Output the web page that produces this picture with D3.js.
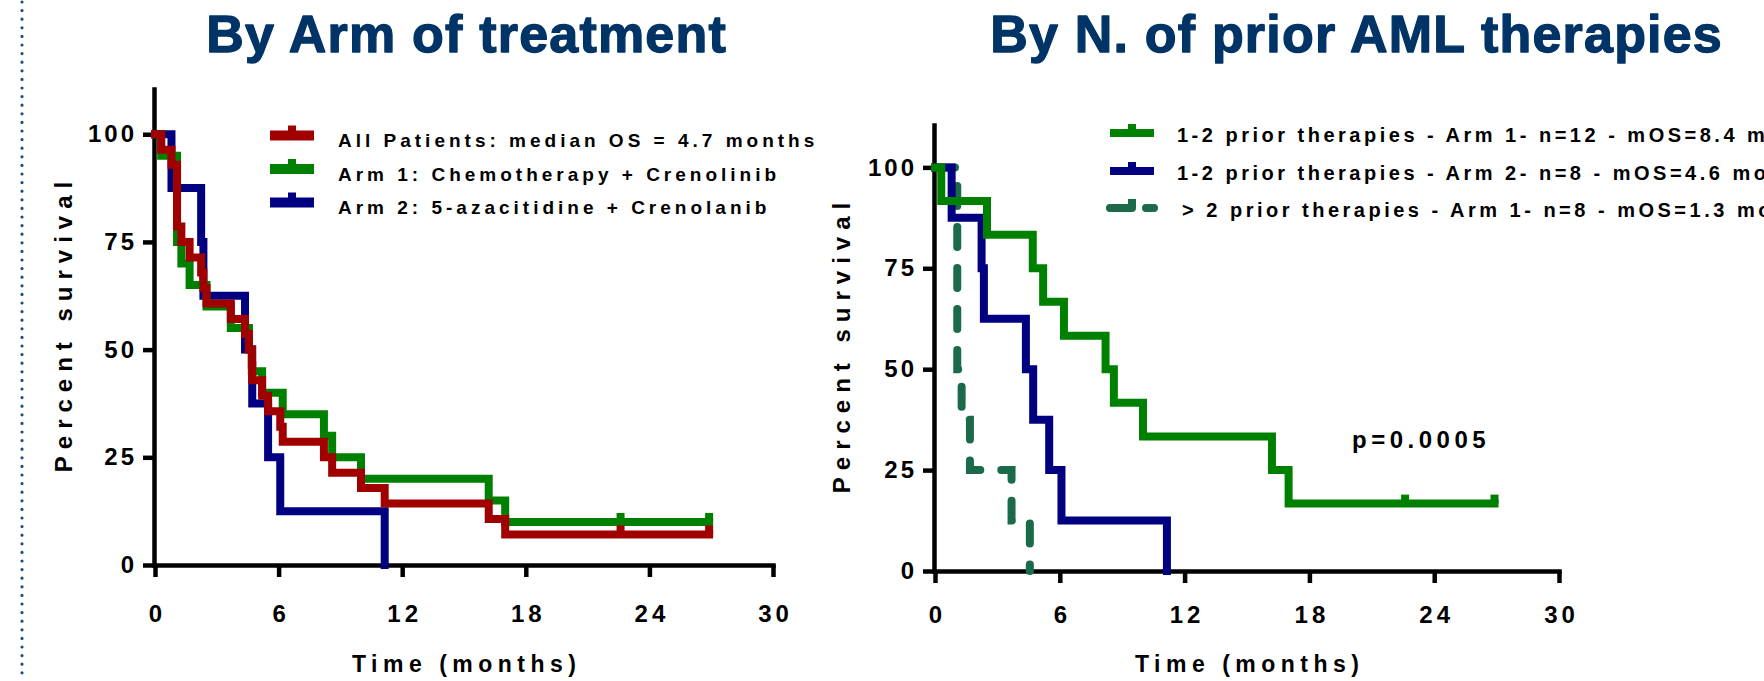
<!DOCTYPE html>
<html>
<head>
<meta charset="utf-8">
<script src="https://cdn.jsdelivr.net/npm/d3@7"></script>
<style>
  html, body { margin: 0; padding: 0; background: #fff; }
  svg { display: block; }
</style>
</head>
<body>
<svg id="chart" width="1764" height="681"></svg>
<script>
// ---------------- DATA ----------------
const xTicks = [0, 6, 12, 18, 24, 30];
const yTicks = [0, 25, 50, 75, 100];

const leftTitle = "By Arm of treatment";
const rightTitle = "By N. of prior AML therapies";
const xAxisTitle = "Time (months)";
const yAxisTitle = "Percent survival";
const pValueLabel = "p=0.0005";

// Left panel: by arm of treatment
const allTimes = [0, 0.3, 0.8, 1.07, 1.28, 1.68, 2.24, 2.35, 2.5, 3.68, 4.37, 4.56, 4.7, 4.72, 5.2, 5.49, 6.08, 6.2, 8.2, 8.6, 10.0, 11.15, 16.2, 17.0, 26.9];
const allSurv  = [100, 96.4, 92.9, 78.6, 75.0, 71.4, 67.9, 64.3, 60.7, 57.1, 53.6, 50.0, 46.4, 42.9, 39.3, 35.7, 32.1, 28.6, 25.0, 21.4, 17.9, 14.3, 10.7, 7.1, 7.1];
const allCensor = [22.6, 26.9];

const arm1Times = [0, 0.3, 1.07, 1.28, 1.68, 2.5, 3.68, 4.56, 4.7, 5.2, 6.2, 8.2, 8.6, 10.0, 16.2, 17.0, 26.9];
const arm1Surv  = [100, 95, 75, 70, 65, 60, 55, 50, 45, 40, 35, 30, 25, 20, 15, 10, 10];
const arm1Censor = [22.6, 26.9];

const arm2Times = [0, 0.8, 2.24, 2.35, 4.37, 4.72, 5.49, 6.08, 11.15];
const arm2Surv  = [100, 87.5, 75, 62.5, 50, 37.5, 25, 12.5, 0];

const leftLegend = [
  "All Patients: median OS = 4.7 months",
  "Arm 1: Chemotherapy + Crenolinib",
  "Arm 2: 5-azacitidine + Crenolanib"
];

// Right panel: by number of prior AML therapies
const p12a1Times = [0, 0.3, 2.5, 4.7, 5.2, 6.2, 8.2, 8.6, 10.0, 16.2, 17.0, 26.9];
const p12a1Surv  = [100, 91.7, 83.3, 75, 66.7, 58.3, 50, 41.7, 33.3, 25, 16.7, 16.7];
const p12a1Censor = [22.6, 26.9];

const p12a2Times = [0, 0.8, 2.24, 2.35, 4.37, 4.72, 5.49, 6.08, 11.15];
const p12a2Surv  = [100, 87.5, 75, 62.5, 50, 37.5, 25, 12.5, 0];

const p3a1Times = [0, 1.07, 1.28, 1.68, 3.68, 4.56];
const p3a1Surv  = [100, 50, 37.5, 25, 12.5, 0];

const rightLegend = [
  "1-2 prior therapies - Arm 1- n=12 - mOS=8.4 months",
  "1-2 prior therapies - Arm 2- n=8 - mOS=4.6 months",
  "> 2 prior therapies - Arm 1- n=8 - mOS=1.3 months"
];

// ---------------- STYLE ----------------
const FONT = "'Liberation Sans', Arial, Helvetica, sans-serif";
const RED = "#a00000", GREEN = "#008000", BLUE = "#000080", TEAL = "#1b6b4b";
const NAVY = "#003366";

const svg = d3.select("#chart");

// dotted vertical separator line at far left
svg.append("line")
  .attr("x1", 22).attr("x2", 22).attr("y1", 2).attr("y2", 681)
  .attr("stroke", "#1f4e79").attr("stroke-width", 3.2)
  .attr("stroke-linecap", "round").attr("stroke-dasharray", "0,8.6");

function addText(sel, txt, x, y, size, ls, anchor, opts = {}) {
  let shift = 0;
  if (anchor === "middle") shift = ls / 2;
  if (anchor === "end") shift = ls;
  const t = sel.append("text")
    .attr("x", x + shift).attr("y", y)
    .attr("font-family", FONT).attr("font-weight", "bold")
    .attr("font-size", size).attr("letter-spacing", ls)
    .attr("text-anchor", anchor)
    .attr("fill", opts.fill || "#000")
    .attr("transform", opts.transform || null)
    .text(txt);
  if (opts.stroke) t.attr("stroke", opts.stroke).attr("stroke-width", opts.strokeWidth || 1).attr("stroke-linejoin", "round");
  return t;
}

function panel(cfg) {
  const x = d3.scaleLinear().domain([0, 30]).range([cfg.x0, cfg.x1]);
  const y = d3.scaleLinear().domain([0, 110.5]).range([cfg.y0, cfg.yTop]);
  const g = svg.append("g");

  // Axes
  const yAxis = d3.axisLeft(y).tickValues(yTicks).tickSize(11).tickSizeOuter(0).tickPadding(9);
  const xAxis = d3.axisBottom(x).tickValues(xTicks).tickSize(12).tickSizeOuter(0).tickPadding(cfg.xPad);

  const gy = g.append("g").attr("transform", `translate(${cfg.x0 - 1},0)`).call(yAxis);
  const gx = g.append("g").attr("transform", `translate(0,${cfg.y0})`).call(xAxis);
  [gx, gy].forEach(a => {
    a.select(".domain").attr("stroke", "#000").attr("stroke-width", 4.5).attr("stroke-linecap", "square");
    a.selectAll(".tick line").attr("stroke", "#000").attr("stroke-width", 4.5);
    a.selectAll("text")
      .attr("font-family", FONT).attr("font-weight", "bold")
      .attr("font-size", 24).attr("fill", "#000");
  });
  gy.selectAll("text").attr("letter-spacing", 3).attr("dx", 3);
  gx.selectAll("text").attr("letter-spacing", 4).attr("dx", 2);

  // Axis titles
  addText(g, xAxisTitle, (cfg.x0 + cfg.x1) / 2, 672, 23, 5.5, "middle");
  const cy = (cfg.y0 + cfg.yTop) / 2;
  addText(g, yAxisTitle, 0, 0, 24, 7, "middle", { transform: `translate(${cfg.yTitleX},${cy}) rotate(-90)` });

  // Title
  addText(svg, cfg.title, cfg.titleX, 52, 52, 1.2, "middle", { fill: NAVY, stroke: NAVY, strokeWidth: 1.3 });

  // Curves (drawn last-listed first so first series ends up on top)
  const line = d3.line().x(d => x(d[0])).y(d => y(d[1])).curve(d3.curveStepAfter);
  cfg.series.slice().reverse().forEach(s => {
    const pts = s.times.map((t, i) => [t, s.surv[i]]);
    g.append("path")
      .attr("d", line(pts))
      .attr("fill", "none").attr("stroke", s.color).attr("stroke-width", 8)
      .attr("stroke-linejoin", "miter").attr("stroke-linecap", s.dash ? "round" : "square")
      .attr("stroke-dasharray", s.dash || null);
    (s.censor || []).forEach(ct => {
      const v = s.surv[s.surv.length - 1];
      g.append("line")
        .attr("x1", x(ct)).attr("x2", x(ct))
        .attr("y1", y(v)).attr("y2", y(v) - 9)
        .attr("stroke", s.color).attr("stroke-width", 8);
    });
  });

  // Legend
  cfg.series.forEach((s, i) => {
    const ly = cfg.legY[i];
    g.append("line")
      .attr("x1", cfg.legX0).attr("x2", cfg.legX1).attr("y1", ly).attr("y2", ly)
      .attr("stroke", s.color).attr("stroke-width", cfg.legW)
      .attr("stroke-linecap", s.dash ? "round" : "butt")
      .attr("stroke-dasharray", s.dash ? "22,14" : null);
    const mx = s.dash ? cfg.legX0 + 22 : (cfg.legX0 + cfg.legX1) / 2;
    g.append("line")
      .attr("x1", mx).attr("x2", mx).attr("y1", ly).attr("y2", ly - cfg.legW / 2 - 5)
      .attr("stroke", s.color).attr("stroke-width", 8);
    addText(g, cfg.legend[i], cfg.legTextX + (s.dash ? 5 : 0), ly + cfg.legBase, cfg.legSize, cfg.legLs, "start");
  });

  return { x, y, g };
}

panel({
  x0: 155, x1: 773, y0: 565, yTop: 89, xPad: 28, yTitleX: 72,
  title: leftTitle, titleX: 466,
  series: [
    { times: allTimes, surv: allSurv, color: RED, censor: allCensor },
    { times: arm1Times, surv: arm1Surv, color: GREEN, censor: arm1Censor },
    { times: arm2Times, surv: arm2Surv, color: BLUE }
  ],
  legend: leftLegend, legY: [135.5, 169, 202.5], legX0: 270, legX1: 314, legW: 10,
  legTextX: 338, legBase: 11.5, legSize: 19, legLs: 4
});

panel({
  x0: 935, x1: 1559, y0: 571, yTop: 125, xPad: 23, yTitleX: 850,
  title: rightTitle, titleX: 1356,
  series: [
    { times: p12a1Times, surv: p12a1Surv, color: GREEN, censor: p12a1Censor },
    { times: p12a2Times, surv: p12a2Surv, color: BLUE },
    { times: p3a1Times, surv: p3a1Surv, color: TEAL, dash: "20,21" }
  ],
  legend: rightLegend, legY: [133, 171, 208], legX0: 1110, legX1: 1154, legW: 8,
  legTextX: 1177, legBase: 9, legSize: 20, legLs: 3.5
});

// p-value annotation
addText(svg, pValueLabel, 1352, 448, 24, 4.5, "start");
</script>
</body>
</html>
